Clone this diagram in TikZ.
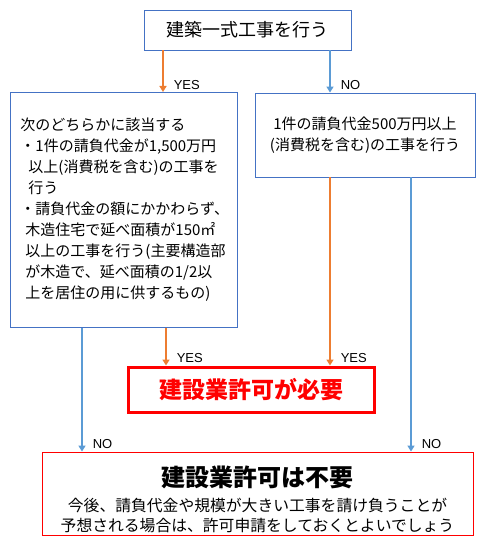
\documentclass[tikz,border=0pt]{standalone}
\usepackage{fontspec}
\setmainfont{Noto Sans CJK JP}
\newfontfamily\latinfont{Liberation Sans}
\usetikzlibrary{arrows.meta}
\definecolor{boxblue}{HTML}{4472C4}
\definecolor{noblue}{HTML}{5B9BD5}
\definecolor{yesorange}{HTML}{ED7D31}
\definecolor{alertred}{HTML}{FF0000}
\tikzset{
    flowbox/.style={draw=boxblue,fill=white,line width=0.9pt,inner sep=0pt,
      align=center,font=\fontsize{15}{21}\selectfont},
    needbox/.style={draw=alertred,line width=3pt,text=alertred,inner sep=0pt,
      minimum width=246pt,minimum height=45pt,
      font=\bfseries\fontsize{23}{23}\selectfont},
    resultbox/.style={draw=alertred,line width=0.9pt,inner sep=0pt,align=center,
      minimum width=431pt,minimum height=83pt,font=\fontsize{15.8}{20}\selectfont},
    yesarrow/.style={draw=yesorange,line width=1.5pt,
      -{Triangle[length=6pt,width=7pt]}},
    noarrow/.style={draw=noblue,line width=1.5pt,
      -{Triangle[length=6pt,width=7pt]}},
    branchlabel/.style={font=\latinfont\fontsize{13}{13}\selectfont,inner sep=0pt,
      anchor=south west,xshift=10pt,yshift=2pt}
}
\begin{document}
\begin{tikzpicture}[x=1pt,y=-1pt]
    \useasboundingbox (0,0) rectangle (495,556);
    \node[flowbox,minimum width=207pt,minimum height=40pt,
      font=\fontsize{18}{22}\selectfont] (ask) at (247.5,30) {建築一式工事を行う};
    \node[flowbox,anchor=north west,align=left,text width=207pt,inner xsep=10pt,
      minimum height=235pt] (cond) at (10,92)
      {次のどちらかに該当する\\
       ・1件の請負代金が1,500万円\\
       \hspace*{8pt}以上(消費税を含む)の工事を\\
       \hspace*{8pt}行う\\
       ・請負代金の額にかかわらず、\\
       \hspace*{5pt}木造住宅で延べ面積が150㎡\\
       \hspace*{5pt}以上の工事を行う(主要構造部\\
       \hspace*{5pt}が木造で、延べ面積の1/2以\\
       \hspace*{5pt}上を居住の用に供するもの)};
    \node[flowbox,minimum width=220pt,minimum height=84pt] (small) at (365,135)
      {1件の請負代金500万円以上\\(消費税を含む)の工事を行う};
    \node[needbox] (need) at (251,389.5) {建設業許可が必要};
    \node[resultbox] (noneed) at (257.5,493.5)
      {\rule{0pt}{32pt}{\bfseries\fontsize{24}{24}\selectfont 建設業許可は不要}\\[5pt]
       今後、請負代金や規模が大きい工事を請け負うことが\\
       予想される場合は、許可申請をしておくとよいでしょう};
    \foreach \x/\src/\dst/\kind/\txt in {163/ask/cond/yesarrow/YES,
        330/ask/small/noarrow/NO, 166/cond/need/yesarrow/YES,
        82/cond/noneed/noarrow/NO, 330/small/need/yesarrow/YES,
        411/small/noneed/noarrow/NO}
        \draw[\kind] (\src.south -| \x,0) -- (\dst.north -| \x,0)
          node[branchlabel] {\txt};
\end{tikzpicture}
\end{document}
